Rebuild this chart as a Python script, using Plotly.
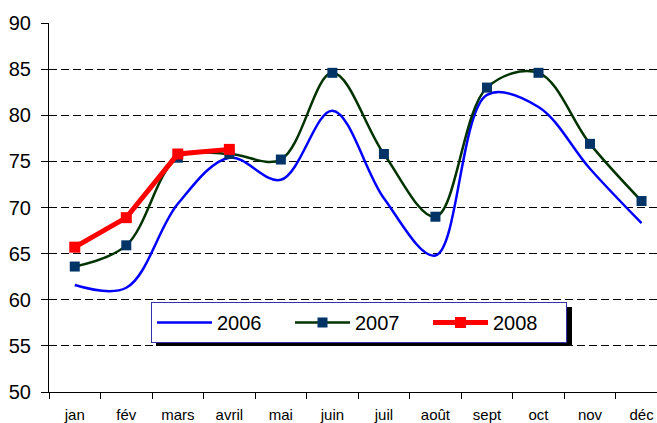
import plotly.graph_objects as go

months = ["jan", "fév", "mars", "avril", "mai", "juin", "juil", "août", "sept", "oct", "nov", "déc"]
y2006 = [61.6, 61.3, 70.4, 75.4, 73.0, 80.5, 71.0, 64.8, 82.2, 80.9, 74.2, 68.3]
y2007 = [63.6, 65.9, 75.4, 75.8, 75.2, 84.6, 75.8, 69.0, 83.0, 84.6, 76.9, 70.7]
y2008 = [65.7, 68.9, 75.8, 76.3]
y_ticks = [50, 55, 60, 65, 70, 75, 80, 85, 90]

FONT = "Liberation Sans, Arial, sans-serif"

fig = go.Figure()
fig.add_trace(go.Scatter(x=months, y=y2006, name="2006", mode="lines",
                         line=dict(color="#0000FF", width=2.5, shape="spline", smoothing=1.0)))
fig.add_trace(go.Scatter(x=months, y=y2007, name="2007", mode="lines+markers",
                         line=dict(color="#003300", width=2.5, shape="spline", smoothing=1.0),
                         marker=dict(symbol="square", size=10, color="#003366")))
fig.add_trace(go.Scatter(x=months[:len(y2008)], y=y2008, name="2008", mode="lines+markers",
                         line=dict(color="#FF0000", width=5),
                         marker=dict(symbol="square", size=11, color="#FF0000")))

L, T, B = 49, 23, 31
W, H = 657, 423
pw, ph = W - L, H - T - B

def px_x(p):
    return (p - L) / pw

def px_y(p):
    return (H - B - p) / ph

LEG_L, LEG_T, LEG_W, LEG_H = 151, 302, 416, 39

# legend shadow
fig.add_shape(type="rect", xref="paper", yref="paper",
              x0=px_x(LEG_L + 5), x1=px_x(LEG_L + LEG_W + 5),
              y0=px_y(LEG_T + LEG_H + 5), y1=px_y(LEG_T + 5),
              fillcolor="black", line=dict(width=0), layer="above")

fig.update_layout(
    width=W, height=H,
    margin=dict(l=L, r=0, t=T, b=B, autoexpand=False),
    paper_bgcolor="white", plot_bgcolor="white",
    font=dict(family=FONT, color="black"),
    showlegend=True,
    legend=dict(orientation="h", x=px_x(LEG_L), y=px_y(LEG_T), xanchor="left", yanchor="top",
                bgcolor="white", bordercolor="#3333AA", borderwidth=1,
                font=dict(size=20, family=FONT),
                entrywidth=68, entrywidthmode="pixels",
                itemwidth=55, tracegroupgap=0),
    xaxis=dict(type="category", range=[-0.5, 11.3], tickson="boundaries",
               showline=True, linecolor="black", linewidth=1,
               ticks="outside", ticklen=6, tickcolor="black",
               tickfont=dict(size=15, family=FONT), ticklabelstandoff=9,
               showgrid=False, fixedrange=True, automargin=False),
    yaxis=dict(range=[50, 90], tickvals=y_ticks, ticktext=[str(v) for v in y_ticks],
               showline=True, linecolor="black", linewidth=1,
               ticks="outside", ticklen=7, tickcolor="black",
               tickfont=dict(size=20, family=FONT), ticklabelstandoff=6,
               showgrid=True, gridcolor="black", gridwidth=1, griddash="8px,4px",
               zeroline=False, fixedrange=True, automargin=False),
)

fig.write_html("out.html", config={"displayModeBar": False},
               post_script="document.body.style.margin='0px';")
